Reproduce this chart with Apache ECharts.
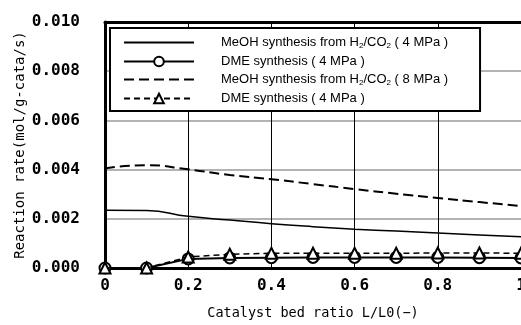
<!DOCTYPE html>
<html>
<head>
<meta charset="utf-8">
<script src="https://cdn.jsdelivr.net/npm/echarts@6/dist/echarts.min.js"></script>
<style>
  html, body { margin: 0; padding: 0; background: #fff; }
  #chart { width: 521px; height: 325px; }
</style>
</head>
<body>
<div id="chart"></div>
<script>
// bed ratio L/L0
const bedRatio = [0, 0.1, 0.2, 0.3, 0.4, 0.5, 0.6, 0.7, 0.8, 0.9, 1.0]

// reaction rates (mol/g-cata/s)
const meoh4 = [0.00235, 0.00234, 0.0021, 0.00195, 0.0018, 0.00168, 0.00158, 0.0015, 0.00142, 0.00134, 0.00127]
const dme4 = [0, 0, 0.00037, 0.00041, 0.00042, 0.00043, 0.00043, 0.00043, 0.00043, 0.00042, 0.00041]
const meoh8 = [0.00405, 0.00418, 0.00401, 0.00378, 0.00361, 0.00341, 0.00321, 0.00302, 0.00285, 0.00268, 0.00252]
const dme4b = [0, 0, 0.00045, 0.00056, 0.0006, 0.0006, 0.0006, 0.0006, 0.00061, 0.00061, 0.0006]

const seriesNames = ['MeOH 4MPa', 'DME 4MPa', 'MeOH 8MPa', 'DME 4MPa (2)']
const legendLabels = {
    'MeOH 4MPa': 'MeOH synthesis from H{sub|2}/CO{sub|2} ( 4 MPa )',
    'DME 4MPa': 'DME synthesis ( 4 MPa )',
    'MeOH 8MPa': 'MeOH synthesis from H{sub|2}/CO{sub|2} ( 8 MPa )',
    'DME 4MPa (2)': 'DME synthesis ( 4 MPa )'
}

const yTicks = [0, 0.002, 0.004, 0.006, 0.008, 0.010]

const pairs = (ys) => bedRatio.map((x, i) => [x, ys[i]])

const chart = echarts.init(document.getElementById('chart'))

const mono = 'DejaVu Sans Mono'
const noMarker = { opacity: 0 }

const option = {
    backgroundColor: '#fff',
    animation: false,
    grid: { left: 105, right: 0, top: 22, bottom: 57, outerBoundsMode: 'none', containLabel: false },
    legend: {
        orient: 'vertical',
        left: 110,
        top: 28,
        data: [
            { name: seriesNames[0], itemStyle: noMarker },
            { name: seriesNames[1] },
            { name: seriesNames[2], itemStyle: noMarker },
            { name: seriesNames[3] }
        ],
        backgroundColor: '#fff',
        borderColor: '#000',
        borderWidth: 2,
        borderRadius: 0,
        padding: [8, 32, 6, 13],
        itemWidth: 70,
        itemHeight: 12,
        itemGap: 5,
        formatter: (name) => legendLabels[name],
        textStyle: {
            fontFamily: 'Liberation Sans',
            fontSize: 13,
            color: '#000',
            padding: [0, 0, 0, 22],
            rich: {
                sub: { fontSize: 8, verticalAlign: 'bottom', padding: [7, 0, 0, 0], fontFamily: 'Liberation Sans' }
            }
        }
    },
    xAxis: [
        {
            type: 'value',
            min: 0,
            max: 1,
            interval: 0.2,
            name: 'Catalyst bed ratio L/L0(−)',
            nameLocation: 'middle',
            nameGap: 38,
            nameMoveOverlap: false,
            nameTextStyle: { fontFamily: mono, fontSize: 13.5, color: '#000' },
            axisLine: { show: true, lineStyle: { color: '#000', width: 3 } },
            axisTick: { show: false },
            axisLabel: {
                fontFamily: mono,
                fontSize: 16,
                fontWeight: 'bold',
                color: '#000',
                margin: 10,
                formatter: (v) => (v === 0 ? '0' : v === 1 ? '1' : v.toFixed(1))
            },
            splitLine: { show: true, lineStyle: { color: '#000', width: 1 } }
        },
        {
            type: 'value',
            position: 'top',
            min: 0,
            max: 1,
            interval: 0.2,
            axisLine: { show: true, lineStyle: { color: '#000', width: 3 } },
            axisTick: { show: false },
            axisLabel: { show: false },
            splitLine: { show: false }
        }
    ],
    yAxis: {
        type: 'value',
        min: 0,
        max: 0.01,
        interval: 0.002,
        name: 'Reaction rate(mol/g-cata/s)',
        nameLocation: 'middle',
        nameGap: 78,
        nameMoveOverlap: false,
        nameTextStyle: { fontFamily: mono, fontSize: 14, color: '#000' },
        axisLine: { show: true, lineStyle: { color: '#000', width: 3 } },
        axisTick: { show: false },
        axisLabel: {
            fontFamily: mono,
            fontSize: 16,
            fontWeight: 'bold',
            color: '#000',
            margin: 25,
            formatter: (v) => yTicks.find(t => Math.abs(t - v) < 1e-9).toFixed(3)
        },
        splitLine: { show: true, lineStyle: { color: '#9a9a9a', width: 1.5 } }
    },
    series: [
        {
            name: seriesNames[0],
            type: 'line',
            smooth: true,
            symbol: 'none',
            data: pairs(meoh4),
            lineStyle: { color: '#000', width: 1.5 },
            itemStyle: { color: '#000' },
            z: 5
        },
        {
            name: seriesNames[1],
            type: 'line',
            symbol: 'emptyCircle',
            symbolSize: 11,
            data: pairs(dme4),
            lineStyle: { color: '#000', width: 2 },
            itemStyle: { color: '#000', borderColor: '#000', borderWidth: 2 },
            z: 6
        },
        {
            name: seriesNames[2],
            type: 'line',
            smooth: true,
            symbol: 'none',
            data: pairs(meoh8),
            lineStyle: { color: '#000', width: 2, type: [10, 5] },
            itemStyle: { color: '#000' },
            z: 5
        },
        {
            name: seriesNames[3],
            type: 'line',
            symbol: 'emptyTriangle',
            symbolSize: 11,
            data: pairs(dme4b),
            lineStyle: { color: '#000', width: 1.5, type: [6, 4] },
            itemStyle: { color: '#000', borderColor: '#000', borderWidth: 2 },
            z: 7
        }
    ]
}

chart.setOption(option)
</script>
</body>
</html>
